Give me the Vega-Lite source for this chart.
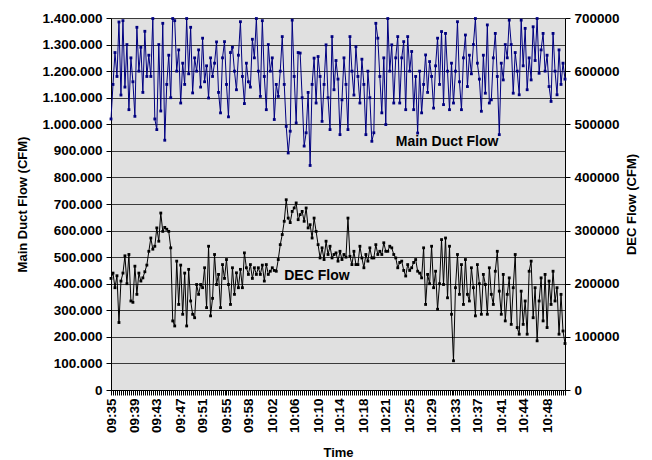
{
"$schema":"https://vega.github.io/schema/vega-lite/v6.json",
"width":454,"height":372,
"autosize":{"type":"none"},
"padding":{"left":111,"top":18,"right":87,"bottom":70},
"background":"white",
"config":{
"locale":{"number":{"decimal":",","thousands":".","grouping":[3],"currency":["","€"]}},
"view":{"fill":"#e0e0e0","stroke":null},
"axis":{"labelFont":"Liberation Sans","labelFontWeight":"bold","labelFontSize":13.5,"labelColor":"#000","titleFont":"Liberation Sans","titleFontWeight":"bold","titleFontSize":13,"titleColor":"#000","domainColor":"#000","tickColor":"#000","tickSize":5,"gridColor":"#3a3a3a","gridWidth":1,"gridOpacity":1}
},
"data":{"values":[
{"t":"09:35:15","m":1020000,"d":210000},{"t":"09:35:35","m":1150000,"d":220000},{"t":"09:35:55","m":1270000,"d":192500},
{"t":"09:36:15","m":1180000,"d":215000},{"t":"09:36:35","m":1385000,"d":127000},{"t":"09:36:55","m":1110000,"d":205000},
{"t":"09:37:15","m":1390000,"d":220000},{"t":"09:37:35","m":1140000,"d":252500},{"t":"09:37:55","m":1300000,"d":200000},
{"t":"09:38:15","m":1055000,"d":255000},{"t":"09:38:35","m":1250000,"d":167500},{"t":"09:38:55","m":1160000,"d":165000},
{"t":"09:39:15","m":1030000,"d":233000},{"t":"09:39:35","m":1365000,"d":180000},{"t":"09:39:55","m":1200000,"d":220000},
{"t":"09:40:15","m":1290000,"d":205000},{"t":"09:40:35","m":1120000,"d":211000},{"t":"09:40:55","m":1350000,"d":222500},
{"t":"09:41:15","m":1180000,"d":235000},{"t":"09:41:35","m":1260000,"d":261000},{"t":"09:41:55","m":1180000,"d":286000},
{"t":"09:42:15","m":1398000,"d":265000},{"t":"09:42:35","m":1020000,"d":270500},{"t":"09:42:55","m":980000,"d":305000},
{"t":"09:43:15","m":1300000,"d":280000},{"t":"09:43:35","m":1050000,"d":333000},{"t":"09:43:55","m":1380000,"d":298500},
{"t":"09:44:15","m":940000,"d":306000},{"t":"09:44:35","m":1150000,"d":302500},{"t":"09:44:55","m":1260000,"d":298500},
{"t":"09:45:15","m":1100000,"d":267500},{"t":"09:45:35","m":1398000,"d":130000},{"t":"09:45:55","m":1390000,"d":120500},
{"t":"09:46:15","m":1200000,"d":242500},{"t":"09:46:35","m":1280000,"d":161000},{"t":"09:46:55","m":1080000,"d":235000},
{"t":"09:47:15","m":1230000,"d":142500},{"t":"09:47:35","m":1150000,"d":220000},{"t":"09:47:55","m":1398000,"d":120500},
{"t":"09:48:15","m":1190000,"d":227000},{"t":"09:48:35","m":1365000,"d":167500},{"t":"09:48:55","m":1118000,"d":142500},
{"t":"09:49:15","m":1250000,"d":136000},{"t":"09:49:35","m":1200000,"d":198500},{"t":"09:49:55","m":1280000,"d":180000},
{"t":"09:50:15","m":1140000,"d":198500},{"t":"09:50:35","m":1324000,"d":192500},{"t":"09:50:55","m":1160000,"d":230000},
{"t":"09:51:15","m":1220000,"d":155000},{"t":"09:51:35","m":1099000,"d":270500},{"t":"09:51:55","m":1250000,"d":139500},
{"t":"09:52:15","m":1180000,"d":172500},{"t":"09:52:35","m":1230000,"d":255000},{"t":"09:52:55","m":1310000,"d":198500},
{"t":"09:53:15","m":1120000,"d":217500},{"t":"09:53:35","m":1043000,"d":155000},{"t":"09:53:55","m":1250000,"d":236000},
{"t":"09:54:15","m":1311000,"d":210000},{"t":"09:54:35","m":1150000,"d":245500},{"t":"09:54:55","m":1028000,"d":198500},
{"t":"09:55:15","m":1270000,"d":161000},{"t":"09:55:35","m":1290000,"d":230000},{"t":"09:55:55","m":1200000,"d":180000},
{"t":"09:56:15","m":1130000,"d":220500},{"t":"09:56:35","m":1260000,"d":192500},{"t":"09:56:55","m":1386000,"d":227000},
{"t":"09:57:15","m":1180000,"d":192500},{"t":"09:57:35","m":1078000,"d":258000},{"t":"09:57:55","m":1230000,"d":230000},
{"t":"09:58:15","m":1160000,"d":217500},{"t":"09:58:35","m":1140000,"d":236000},{"t":"09:58:55","m":1320000,"d":210000},
{"t":"09:59:15","m":1250000,"d":230000},{"t":"09:59:35","m":1398000,"d":217500},{"t":"09:59:55","m":1200000,"d":230000},
{"t":"10:00:15","m":1105000,"d":217500},{"t":"10:00:35","m":1390000,"d":235000},{"t":"10:00:55","m":1180000,"d":205000},
{"t":"10:01:15","m":1055000,"d":236000},{"t":"10:01:35","m":1300000,"d":217500},{"t":"10:01:55","m":1200000,"d":223500},
{"t":"10:02:15","m":1250000,"d":230000},{"t":"10:02:35","m":1018000,"d":225000},{"t":"10:02:55","m":1150000,"d":223500},
{"t":"10:03:15","m":1105000,"d":245500},{"t":"10:03:35","m":1200000,"d":273500},{"t":"10:03:55","m":1330000,"d":292500},
{"t":"10:04:15","m":1150000,"d":317500},{"t":"10:04:35","m":992000,"d":358000},{"t":"10:04:55","m":892000,"d":323500},
{"t":"10:05:15","m":974000,"d":315000},{"t":"10:05:35","m":1392000,"d":336000},{"t":"10:05:55","m":1180000,"d":342500},
{"t":"10:06:15","m":1005000,"d":352000},{"t":"10:06:35","m":1270000,"d":320500},{"t":"10:06:55","m":1268000,"d":330000},
{"t":"10:07:15","m":1100000,"d":336000},{"t":"10:07:35","m":918000,"d":317500},{"t":"10:07:55","m":968000,"d":342500},
{"t":"10:08:15","m":1120000,"d":305000},{"t":"10:08:35","m":845000,"d":311000},{"t":"10:08:55","m":1150000,"d":286000},
{"t":"10:09:15","m":1249000,"d":323500},{"t":"10:09:35","m":1080000,"d":298500},{"t":"10:09:55","m":1255000,"d":273500},
{"t":"10:10:15","m":1180000,"d":248500},{"t":"10:10:35","m":1011000,"d":267500},{"t":"10:10:55","m":1150000,"d":245500},
{"t":"10:11:15","m":1299000,"d":280000},{"t":"10:11:35","m":1100000,"d":255000},{"t":"10:11:55","m":980000,"d":270500},
{"t":"10:12:15","m":1330000,"d":248500},{"t":"10:12:35","m":1130000,"d":255000},{"t":"10:12:55","m":1240000,"d":258000},
{"t":"10:13:15","m":1170000,"d":242500},{"t":"10:13:35","m":961000,"d":261000},{"t":"10:13:55","m":1092000,"d":245500},
{"t":"10:14:15","m":1250000,"d":255000},{"t":"10:14:35","m":1150000,"d":250000},{"t":"10:14:55","m":980000,"d":323500},
{"t":"10:15:15","m":1330000,"d":251500},{"t":"10:15:35","m":1200000,"d":236000},{"t":"10:15:55","m":1110000,"d":261000},
{"t":"10:16:15","m":1292000,"d":236000},{"t":"10:16:35","m":1180000,"d":236000},{"t":"10:16:55","m":1080000,"d":270500},
{"t":"10:17:15","m":1245000,"d":248500},{"t":"10:17:35","m":1150000,"d":230000},{"t":"10:17:55","m":961000,"d":255000},
{"t":"10:18:15","m":1200000,"d":242500},{"t":"10:18:35","m":1100000,"d":267500},{"t":"10:18:55","m":936000,"d":248500},
{"t":"10:19:15","m":968000,"d":248500},{"t":"10:19:35","m":1380000,"d":273500},{"t":"10:19:55","m":1324000,"d":255000},
{"t":"10:20:15","m":1180000,"d":261000},{"t":"10:20:35","m":1043000,"d":255000},{"t":"10:20:55","m":1250000,"d":277000},
{"t":"10:21:15","m":999000,"d":261000},{"t":"10:21:35","m":1398000,"d":261000},{"t":"10:21:55","m":1200000,"d":270500},
{"t":"10:22:15","m":1299000,"d":267500},{"t":"10:22:35","m":1080000,"d":255000},{"t":"10:22:55","m":1250000,"d":248500},
{"t":"10:23:15","m":1330000,"d":230000},{"t":"10:23:35","m":1080000,"d":240000},{"t":"10:23:55","m":1250000,"d":242500},
{"t":"10:24:15","m":1311000,"d":225000},{"t":"10:24:35","m":1055000,"d":214500},{"t":"10:24:55","m":1330000,"d":236000},
{"t":"10:25:15","m":1200000,"d":225000},{"t":"10:25:35","m":1274000,"d":230000},{"t":"10:25:55","m":1055000,"d":240000},
{"t":"10:26:15","m":1180000,"d":245500},{"t":"10:26:35","m":967000,"d":223500},{"t":"10:26:55","m":1200000,"d":220000},
{"t":"10:27:15","m":1043000,"d":211000},{"t":"10:27:35","m":1150000,"d":267500},{"t":"10:27:55","m":1261000,"d":161000},
{"t":"10:28:15","m":1120000,"d":217500},{"t":"10:28:35","m":1236000,"d":200000},{"t":"10:28:55","m":1180000,"d":270500},
{"t":"10:29:15","m":1061000,"d":192500},{"t":"10:29:35","m":1220000,"d":223500},{"t":"10:29:55","m":1324000,"d":152000},
{"t":"10:30:15","m":1150000,"d":200000},{"t":"10:30:35","m":1349000,"d":283000},{"t":"10:30:55","m":1074000,"d":198500},
{"t":"10:31:15","m":1342000,"d":286000},{"t":"10:31:35","m":1200000,"d":173500},{"t":"10:31:55","m":1055000,"d":270500},
{"t":"10:32:15","m":1230000,"d":142500},{"t":"10:32:35","m":1080000,"d":55000},{"t":"10:32:55","m":1200000,"d":192500},
{"t":"10:33:15","m":1386000,"d":255000},{"t":"10:33:35","m":1160000,"d":180000},{"t":"10:33:55","m":1055000,"d":236000},
{"t":"10:34:15","m":1250000,"d":161000},{"t":"10:34:35","m":1336000,"d":245500},{"t":"10:34:55","m":1142000,"d":180000},
{"t":"10:35:15","m":1260000,"d":167500},{"t":"10:35:35","m":1190000,"d":230000},{"t":"10:35:55","m":1300000,"d":192500},
{"t":"10:36:15","m":1398000,"d":139500},{"t":"10:36:35","m":1230000,"d":236000},{"t":"10:36:55","m":1170000,"d":200000},
{"t":"10:37:15","m":1049000,"d":142500},{"t":"10:37:35","m":1260000,"d":217500},{"t":"10:37:55","m":1117000,"d":198500},
{"t":"10:38:15","m":1374000,"d":142500},{"t":"10:38:35","m":1080000,"d":230000},{"t":"10:38:55","m":1092000,"d":180000},
{"t":"10:39:15","m":1250000,"d":161000},{"t":"10:39:35","m":1342000,"d":223500},{"t":"10:39:55","m":1180000,"d":261000},
{"t":"10:40:15","m":961000,"d":186000},{"t":"10:40:35","m":1230000,"d":142500},{"t":"10:40:55","m":1167000,"d":217500},
{"t":"10:41:15","m":1300000,"d":130000},{"t":"10:41:35","m":1250000,"d":180000},{"t":"10:41:55","m":1392000,"d":211000},
{"t":"10:42:15","m":1300000,"d":123500},{"t":"10:42:35","m":1117000,"d":192500},{"t":"10:42:55","m":1270000,"d":255000},
{"t":"10:43:15","m":1200000,"d":117500},{"t":"10:43:35","m":1111000,"d":105000},{"t":"10:43:55","m":1392000,"d":186000},
{"t":"10:44:15","m":1220000,"d":123500},{"t":"10:44:35","m":1361000,"d":167500},{"t":"10:44:55","m":1130000,"d":105000},
{"t":"10:45:15","m":1250000,"d":223500},{"t":"10:45:35","m":1167000,"d":242500},{"t":"10:45:55","m":1367000,"d":136000},
{"t":"10:46:15","m":1240000,"d":192500},{"t":"10:46:35","m":1398000,"d":92500},{"t":"10:46:55","m":1192000,"d":167500},
{"t":"10:47:15","m":1280000,"d":211000},{"t":"10:47:35","m":1342000,"d":130000},{"t":"10:47:55","m":1200000,"d":217500},
{"t":"10:48:15","m":1260000,"d":117500},{"t":"10:48:35","m":1142000,"d":205000},{"t":"10:48:55","m":1086000,"d":161000},
{"t":"10:49:15","m":1342000,"d":223500},{"t":"10:49:35","m":1200000,"d":167500},{"t":"10:49:55","m":1111000,"d":192500},
{"t":"10:50:15","m":1280000,"d":105000},{"t":"10:50:35","m":1150000,"d":180000},{"t":"10:50:55","m":1230000,"d":111000},
{"t":"10:51:15","m":1170000,"d":87500}
]},
"encoding":{"x":{"field":"t","type":"ordinal","scale":{"type":"point","padding":0},
"axis":{"title":"Time","labelAngle":-90,"labelOverlap":false,"labelPadding":3,"titlePadding":14,"labelBound":false,
"labelExpr":"indexof(['09:35:15','09:39:15','09:42:55','09:46:55','09:50:35','09:54:35','09:58:15','10:02:15','10:05:55','10:09:55','10:13:35','10:17:35','10:21:15','10:25:15','10:28:55','10:32:55','10:36:35','10:40:35','10:44:15','10:48:15'], datum.value) >= 0 ? timeFormat(datetime(2000,0,1,toNumber(substring(datum.value,0,2)),toNumber(substring(datum.value,3,5)),toNumber(substring(datum.value,6,8))+30),'%H:%M') : ''"}}},
"layer":[
{"encoding":{"y":{"field":"m","type":"quantitative","scale":{"domain":[0,1400000],"nice":false,"zero":true},
"axis":{"title":"Main Duct Flow (CFM)","orient":"left","values":[0,100000,200000,300000,400000,500000,600000,700000,800000,900000,1000000,1100000,1200000,1300000,1400000],"format":",d","grid":true,"labelPadding":4,"titlePadding":12}}},
"layer":[
{"mark":{"type":"line","color":"#000080","strokeWidth":1,"point":{"shape":"square","filled":true,"size":8,"color":"#000080"}}},
{"data":{"values":[{"t":"10:22:55","m":933000,"label":"Main Duct Flow"}]},
"mark":{"type":"text","align":"left","baseline":"middle","font":"Liberation Sans","fontWeight":"bold","fontSize":14,"color":"#000"},
"encoding":{"text":{"field":"label"}}}
]},
{"encoding":{"y":{"field":"d","type":"quantitative","scale":{"domain":[0,700000],"nice":false,"zero":true},
"axis":{"title":"DEC Flow (CFM)","orient":"right","values":[0,100000,200000,300000,400000,500000,600000,700000],"format":"d","grid":false,"labelPadding":4,"titlePadding":6,"titleAngle":270,"titleBaseline":"top"}}},
"layer":[
{"mark":{"type":"line","color":"#000000","strokeWidth":1,"point":{"shape":"square","filled":true,"size":8,"color":"#000000"}}},
{"data":{"values":[{"t":"10:04:15","d":214500,"label":"DEC Flow"}]},
"mark":{"type":"text","align":"left","baseline":"middle","font":"Liberation Sans","fontWeight":"bold","fontSize":14,"color":"#000"},
"encoding":{"text":{"field":"label"}}}
]}
],
"resolve":{"scale":{"y":"independent"}}
}
